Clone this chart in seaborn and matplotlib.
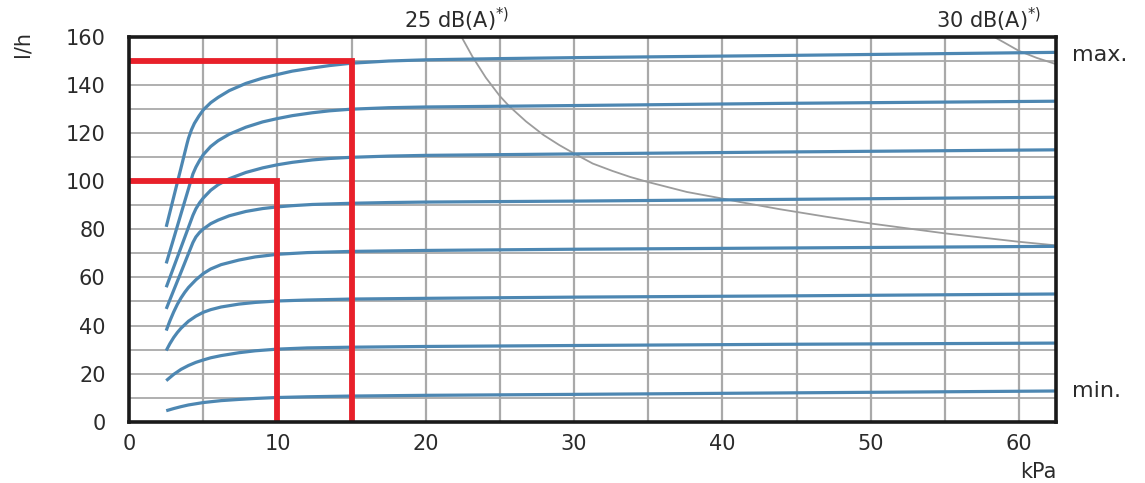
import numpy as np
import pandas as pd
import matplotlib
matplotlib.use("Agg")
import matplotlib.pyplot as plt
import matplotlib.transforms as mtransforms
import seaborn as sns

# ---------------- data ----------------
# flow curves (l/h vs kPa), from top ("max.") to bottom ("min.")
c1_x = [2.5, 3.0, 3.5, 3.9, 4.0, 4.2, 4.4, 4.7, 5.0, 5.5, 6.0, 6.75, 7.87, 9.0, 10.0, 11.0, 12.35, 13.5, 15.0, 17.5, 20.0, 25.0, 30.0, 44.0, 62.5]
c1_y = [81, 93.3, 105.6, 115.5, 117.8, 121.3, 124, 127, 129.6, 132.6, 134.8, 137.6, 140.6, 142.8, 144.3, 145.7, 147.0, 148.0, 149.0, 149.9, 150.4, 150.9, 151.3, 152.2, 153.5]
c2_x = [2.5, 3.0, 3.5, 4.0, 4.3, 4.5, 4.75, 5.0, 5.5, 6.0, 6.75, 7.87, 9.0, 10.0, 11.0, 12.35, 13.5, 15.0, 17.5, 20.0, 25.0, 30.0, 44.0, 62.5]
c2_y = [65.8, 76.1, 86.5, 96.8, 103, 105.8, 108.6, 111.0, 114.4, 116.8, 119.5, 122.4, 124.6, 126.0, 127.2, 128.4, 129.2, 129.9, 130.5, 130.8, 131.1, 131.4, 132.3, 133.2]
c3_x = [2.5, 3.0, 3.5, 4.0, 4.3, 4.5, 4.75, 5.0, 5.5, 6.0, 6.75, 7.87, 9.0, 10.0, 11.0, 12.35, 13.5, 15.0, 17.5, 20.0, 25.0, 30.0, 44.0, 62.5]
c3_y = [55.9, 64.2, 72.5, 80.8, 85.8, 88.5, 91.0, 93.0, 96.2, 98.5, 101.0, 103.6, 105.5, 106.8, 107.8, 108.8, 109.4, 109.9, 110.4, 110.7, 111.0, 111.3, 112.1, 113.0]
c4_x = [2.5, 3.0, 3.5, 4.0, 4.3, 4.5, 4.75, 5.0, 5.5, 6.0, 6.75, 7.87, 9.0, 10.0, 11.0, 12.35, 15.0, 17.5, 20.0, 30.0, 44.0, 62.5]
c4_y = [46.9, 54.6, 62.2, 69.9, 74.5, 76.8, 78.7, 80.1, 82.3, 83.8, 85.6, 87.4, 88.6, 89.3, 89.8, 90.3, 90.8, 91.1, 91.3, 91.7, 92.4, 93.3]
c5_x = [2.5, 2.75, 3.0, 3.25, 3.5, 3.75, 4.0, 4.5, 5.0, 5.5, 6.2, 7.4, 8.5, 10.0, 12.0, 15.0, 20.0, 30.0, 44.0, 62.5]
c5_y = [37.9, 42.0, 45.6, 48.8, 51.5, 53.8, 55.8, 59.0, 61.6, 63.5, 65.3, 67.2, 68.5, 69.6, 70.3, 70.8, 71.2, 71.7, 72.2, 72.9]
c6_x = [2.5, 2.75, 3.0, 3.25, 3.5, 4.0, 4.5, 5.0, 5.5, 6.2, 7.4, 8.5, 10.0, 12.0, 15.0, 20.0, 30.0, 44.0, 62.5]
c6_y = [29.6, 32.5, 35.0, 37.1, 38.9, 41.8, 43.9, 45.5, 46.6, 47.7, 48.9, 49.6, 50.2, 50.6, 51.0, 51.3, 51.8, 52.3, 53.1]
c7_x = [2.5, 3.0, 3.5, 4.0, 4.5, 5.0, 5.5, 6.2, 7.4, 8.5, 10.0, 12.0, 15.0, 20.0, 30.0, 44.0, 62.5]
c7_y = [17.1, 19.7, 21.8, 23.4, 24.7, 25.7, 26.6, 27.5, 28.7, 29.5, 30.2, 30.7, 31.0, 31.3, 31.7, 32.2, 32.7]
c8_x = [2.5, 3.0, 3.5, 4.0, 4.5, 5.0, 6.2, 7.4, 8.5, 10.0, 12.0, 15.0, 20.0, 30.0, 44.0, 62.5]
c8_y = [4.6, 5.5, 6.3, 7.0, 7.5, 8.0, 8.8, 9.3, 9.7, 10.1, 10.4, 10.7, 11.0, 11.4, 12.0, 12.8]

# noise limit curves
db25_x = [22.36, 23.15, 24.05, 25.0, 25.63, 26.76, 27.93, 29.0, 30.0, 31.26, 32.6, 33.8, 35.0, 37.6, 40.05, 41.2, 43.9, 47.0, 50.0, 55.0, 60.0, 62.5]
db25_y = [160.5, 151.7, 143.0, 135.3, 131.1, 124.8, 119.2, 115.0, 111.5, 107.3, 104.2, 101.7, 99.6, 95.5, 92.7, 91.3, 88.3, 85.2, 82.4, 78.3, 74.8, 73.3]
db30_x = [58.3, 59.0, 60.0, 61.2, 62.5]
db30_y = [160, 157.6, 154.1, 151.2, 148.6]

# example design points (kPa, l/h)
design_kpa = [15, 10]
design_flow = [150, 100]

x_ticks = [0, 10, 20, 30, 40, 50, 60]
y_ticks = [0, 20, 40, 60, 80, 100, 120, 140, 160]
noise_labels = ["25 dB(A)", "30 dB(A)"]
curve_labels = ["max.", "min."]

# ---------------- styling ----------------
BLUE = "#4d87b2"
RED = "#e8202a"
GREY = "#9c9c9c"
GRID = "#a9a9a9"
TXT = "#2b2b2b"
FS = 15

sns.set_theme(style="white")
plt.rcParams["font.family"] = ["DejaVu Sans"]
plt.rcParams["mathtext.default"] = "regular"

fig = plt.figure(figsize=(11.45, 4.83), dpi=100)
ax = fig.add_axes([0.1128, 0.1267, 0.8095, 0.7973])

curves = [(c1_x, c1_y), (c2_x, c2_y), (c3_x, c3_y), (c4_x, c4_y),
          (c5_x, c5_y), (c6_x, c6_y), (c7_x, c7_y), (c8_x, c8_y)]
rows = []
for i, (xs, ys) in enumerate(curves):
    for xv, yv in zip(xs, ys):
        rows.append({"kPa": xv, "lh": yv, "curve": i})
df = pd.DataFrame(rows)

sns.lineplot(data=df, x="kPa", y="lh", units="curve", estimator=None, sort=False,
             color=BLUE, lw=2.3, ax=ax, legend=False, zorder=3,
             solid_capstyle="butt", solid_joinstyle="round")

noise = pd.concat([
    pd.DataFrame({"kPa": db25_x, "lh": db25_y, "curve": 0}),
    pd.DataFrame({"kPa": db30_x, "lh": db30_y, "curve": 1}),
])
sns.lineplot(data=noise, x="kPa", y="lh", units="curve", estimator=None, sort=False,
             color=GREY, lw=1.3, ax=ax, legend=False, zorder=2.5,
             solid_joinstyle="round")

red_rows = []
for i, (p, q) in enumerate(zip(design_kpa, design_flow)):
    red_rows += [{"kPa": 0, "lh": q, "pt": i},
                 {"kPa": p, "lh": q, "pt": i},
                 {"kPa": p, "lh": 0, "pt": i}]
red = pd.DataFrame(red_rows)
sns.lineplot(data=red, x="kPa", y="lh", units="pt", estimator=None, sort=False,
             color=RED, lw=4.2, ax=ax, legend=False, zorder=4,
             solid_capstyle="round", solid_joinstyle="miter")

ax.set_xlim(0, 62.5)
ax.set_ylim(0, 160)
ax.set_xticks(x_ticks)
ax.set_xticks(np.arange(5, 62, 10), minor=True)
ax.set_yticks(y_ticks)
ax.set_yticks(np.arange(10, 160, 20), minor=True)
ax.set_xticklabels([str(v) for v in x_ticks], fontsize=FS, color=TXT)
ax.set_yticklabels([str(v) for v in y_ticks], fontsize=FS, color=TXT)
ax.set_xlabel("")
ax.set_ylabel("")

ax.grid(True, which="both", axis="x", color=GRID, lw=1.6, zorder=1)
ax.grid(True, which="both", axis="y", color=GRID, lw=1.3, zorder=1)
ax.set_axisbelow(True)

ax.tick_params(axis="x", which="both", length=0, pad=9)
ax.tick_params(axis="y", which="major", length=0, pad=17)
ax.tick_params(axis="y", which="minor", length=3, width=1, color=GRID, direction="out")

for s in ax.spines.values():
    s.set_visible(True)
    s.set_color("#1a1a1a")
    s.set_linewidth(2.6)
    s.set_zorder(5)

# text annotations
fig.text(22 / 1145, 1 - 44 / 483, "l/h", rotation=90, ha="center", va="center",
         fontsize=FS, color=TXT)
fig.text(1038 / 1145, 1 - 472 / 483, "kPa", ha="center", va="center",
         fontsize=FS, color=TXT)
fig.text(457 / 1145, 1 - 28 / 483, noise_labels[0] + r"$^{*)}$", ha="center",
         va="baseline", fontsize=FS, color=TXT)
fig.text(989 / 1145, 1 - 28 / 483, noise_labels[1] + r"$^{*)}$", ha="center",
         va="baseline", fontsize=FS, color=TXT)

trans = mtransforms.blended_transform_factory(ax.transAxes, ax.transData)
ax.text(1.017, 150.0, curve_labels[0], transform=trans, ha="left", va="baseline",
        fontsize=FS + 1, color=TXT, clip_on=False)
ax.text(1.017, 10.3, curve_labels[1], transform=trans, ha="left", va="baseline",
        fontsize=FS + 1, color=TXT, clip_on=False)

fig.savefig("out.png", dpi=100)
